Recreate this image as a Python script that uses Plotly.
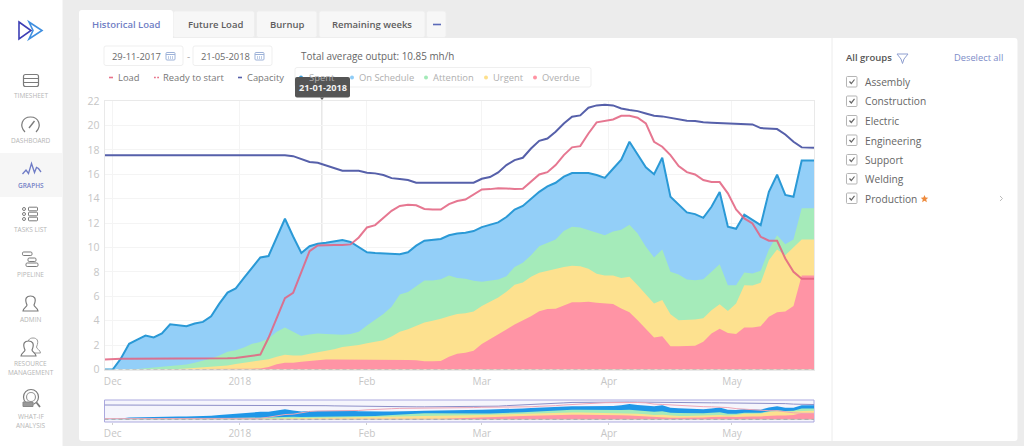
import re
import pandas as pd
import plotly.graph_objects as go

W, H = 1024, 446

# ---- data (stack tops, one value every two days) ----
dates = list(pd.date_range("2017-11-29", periods=87, freq="2D")) + [pd.Timestamp("2018-05-21")]

capacity = [17.55,17.55,17.55,17.55,17.55,17.55,17.55,17.55,17.55,17.55,17.55,17.55,17.55,17.55,17.55,17.55,17.55,17.55,17.55,17.55,17.55,17.55,17.55,
            17.48,17.24,17.0,16.94,16.72,16.48,16.28,16.28,16.28,16.12,16.07,15.93,15.68,15.6,15.52,15.3,15.3,15.3,15.3,15.3,15.3,15.3,15.3,
            15.63,15.77,16.15,16.75,17.16,17.35,18.11,18.74,18.93,19.48,20.16,20.71,20.82,21.45,21.64,21.69,21.64,21.39,21.26,21.17,20.98,20.79,20.74,20.63,20.49,20.38,20.36,20.25,20.22,20.19,20.14,20.14,20.14,20.08,19.78,19.73,19.7,19.26,18.66,18.2,18.17,18.17]

load = [0.82,0.87,0.88,0.88,0.88,0.88,0.88,0.88,0.88,0.88,0.88,0.92,0.93,0.93,0.93,0.93,0.95,1.05,1.15,1.22,2.6,4.3,5.85,6.28,8.0,9.7,10.16,10.2,10.2,10.2,10.25,10.82,11.64,11.83,12.43,13.0,13.4,13.5,13.45,13.15,13.1,13.1,13.55,13.8,
        13.93,14.37,14.75,14.78,14.86,14.84,14.78,14.8,15.38,15.98,16.17,16.75,17.57,18.2,18.3,19.34,20.25,20.38,20.49,20.79,20.79,20.63,20.16,18.66,18.25,17.57,16.67,16.17,15.98,15.52,15.36,15.36,14.43,13.11,12.38,11.97,10.87,10.55,10.55,9.1,8.0,7.43,7.43,7.43]

spent = [0,0,0.9,2.1,2.45,2.78,2.62,2.95,3.7,3.6,3.55,3.77,3.9,4.35,5.4,6.3,6.65,7.5,8.35,9.18,9.3,10.8,12.35,10.9,9.55,10.1,10.3,10.38,10.5,10.6,10.45,10.0,9.6,9.55,9.5,9.45,9.45,9.6,10.15,10.55,10.6,10.7,11.0,11.15,
         11.2,11.34,11.67,11.89,12.05,12.49,13.1,13.4,14.0,14.56,15.0,15.3,15.8,16.1,16.1,16.1,15.93,15.7,16.45,17.2,18.66,17.57,16.56,16.0,17.35,14.15,13.47,12.87,12.73,12.43,13.33,14.54,11.7,11.53,12.68,12.24,11.83,14.56,15.96,14.3,14.15,17.13,17.13,17.13]

attention = [0,0,0,0.02,0.05,0.1,0.15,0.2,0.3,0.35,0.4,0.55,0.7,0.9,1.15,1.45,1.58,1.8,2.1,2.25,2.55,3.1,3.45,3.1,2.75,2.87,2.95,2.9,2.85,2.85,2.9,3.1,3.6,4.05,4.55,5.15,6.15,6.35,6.8,7.3,7.3,7.4,7.7,7.5,
             7.43,7.27,7.2,7.27,7.38,7.65,8.4,8.75,9.37,10.1,10.4,10.65,11.34,11.7,11.64,11.42,11.2,11.0,11.3,11.45,11.86,11.15,10.05,9.18,9.84,8.0,7.79,7.38,7.32,7.4,8.0,8.63,6.9,6.9,7.95,7.87,8.09,9.84,11.0,10.27,10.65,13.22,13.22,13.22]

urgent = [0,0,0,0,0,0,0,0,0.03,0.05,0.08,0.12,0.17,0.22,0.27,0.33,0.45,0.55,0.68,0.75,0.85,1.05,1.2,1.15,1.15,1.3,1.4,1.5,1.65,1.85,1.93,2.0,2.15,2.25,2.4,2.7,3.1,3.3,3.55,3.85,4.0,4.15,4.37,4.55,
          4.6,4.75,5.2,5.57,5.9,6.37,6.94,7.13,7.6,7.92,8.09,8.22,8.4,8.5,8.47,8.25,7.84,7.7,7.7,7.5,7.6,6.9,6.17,5.4,5.7,4.53,4.04,4.04,4.1,4.2,4.86,5.35,4.8,5.4,6.9,6.88,7.1,8.96,9.84,9.37,10.0,10.65,10.65,10.65]

overdue = [0,0,0,0,0,0,0,0,0,0,0.01,0.02,0.03,0.04,0.05,0.05,0.06,0.06,0.07,0.08,0.2,0.43,0.55,0.55,0.63,0.7,0.77,0.82,0.82,0.82,0.82,0.77,0.77,0.77,0.77,0.77,0.77,0.77,0.75,0.68,0.68,0.7,1.04,1.3,
           1.37,1.53,2.08,2.46,2.87,3.28,3.69,4.0,4.37,4.78,4.95,4.97,5.27,5.52,5.52,5.55,5.46,5.38,5.36,5.0,4.7,4.04,3.36,2.62,2.73,1.91,1.91,1.91,1.94,2.27,2.95,3.33,3.0,2.9,3.44,3.44,3.55,4.32,4.7,4.75,5.2,7.7,7.7,7.7]

y_ticks = [0,2,4,6,8,10,12,14,16,18,20,22]
x_tick_dates = ["2017-12-01","2018-01-01","2018-02-01","2018-03-01","2018-04-01","2018-05-01"]
x_tick_text = ["Dec","2018","Feb","Mar","Apr","May"]

tabs = [("Historical Load",126),("Future Load",215),("Burnup",287),("Remaining weeks",372)]
groups = ["Assembly","Construction","Electric","Engineering","Support","Welding","Production"]
group_rows = [82,101.5,121,140.5,160,179,198.5]
nav_items = [("TIMESHEET",95),("DASHBOARD",140),("GRAPHS",185),("TASKS LIST",229),("PIPELINE",274),("ADMIN",319),
             ("RESOURCE",363),("MANAGEMENT",372),("WHAT-IF",416),("ANALYSIS",425)]
legend_left = [("Load",118),("Ready to start",163),("Capacity",247)]
legend_box = [("Spent",309,"#3f9fd8",301),("On Schedule",359,"#8fcdf7",352),("Attention",433,"#a3eab8",426),("Urgent",493,"#fde08c",486),("Overdue",542,"#ff93a3",535)]

# ---- colours ----
C_SPENT, C_ATT, C_URG, C_OVER = "#93cff8", "#a5ebba", "#fde18f", "#ff94a5"
C_SPENT_LINE, C_LOAD, C_CAP = "#2a99d6", "rgba(226,100,130,0.88)", "#5660aa"
C_NAV_SPENT = "#1f97e8"
FONT = "Open Sans"

# ---- pixel helpers for the page chrome ----
px = lambda x: x / W
py = lambda y: 1 - y / H

def conv(d):
    toks = re.findall(r"[MLQCZ]|-?\d+\.?\d*", d)
    out, is_x = [], True
    for t in toks:
        if t in "MLQCZ":
            out.append(t); is_x = True
        else:
            v = float(t)
            out.append(f"{px(v):.5f}" if is_x else f"{py(v):.5f}")
            is_x = not is_x
    return " ".join(out)

shapes, annos = [], []

def path(d, line="rgba(0,0,0,0)", width=1, fill="rgba(0,0,0,0)", layer="below"):
    shapes.append(dict(type="path", xref="paper", yref="paper", path=conv(d), layer=layer,
                       line=dict(color=line, width=width), fillcolor=fill))

def rect(x0, y0, x1, y1, fill="rgba(0,0,0,0)", line="rgba(0,0,0,0)", width=1, r=0, layer="below"):
    if r:
        d = (f"M{x0+r} {y0} L{x1-r} {y0} Q{x1} {y0} {x1} {y0+r} L{x1} {y1-r} Q{x1} {y1} {x1-r} {y1} "
             f"L{x0+r} {y1} Q{x0} {y1} {x0} {y1-r} L{x0} {y0+r} Q{x0} {y0} {x0+r} {y0} Z")
        path(d, line, width, fill, layer)
    else:
        shapes.append(dict(type="rect", xref="paper", yref="paper", x0=px(x0), x1=px(x1), y0=py(y0), y1=py(y1),
                           fillcolor=fill, line=dict(color=line, width=width), layer=layer))

def circle(cx, cy, r, fill="rgba(0,0,0,0)", line="rgba(0,0,0,0)", width=1, layer="below"):
    shapes.append(dict(type="circle", xref="paper", yref="paper", x0=px(cx-r), x1=px(cx+r), y0=py(cy+r), y1=py(cy-r),
                       fillcolor=fill, line=dict(color=line, width=width), layer=layer))

def text(s, x, y, size=10.5, color="#666", anchor="left", weight=400):
    annos.append(dict(text=s, x=px(x), y=py(y), xref="paper", yref="paper", showarrow=False, xanchor=anchor,
                      yanchor="middle", borderpad=0, borderwidth=0,
                      font=dict(family=FONT, size=size, color=color, weight=weight)))

# page panels
rect(0, 0, 62.5, 446, fill="#ffffff")
rect(0, 153, 62.5, 197, fill="#f6f6f6")
rect(79, 38, 1017.5, 441, fill="#ffffff", r=3)
rect(173, 11, 254.5, 37.5, fill="#f7f7f7", line="#eeeeee", r=2)
rect(256.5, 11, 317, 37.5, fill="#f7f7f7", line="#eeeeee", r=2)
rect(319, 11, 425, 37.5, fill="#f7f7f7", line="#eeeeee", r=2)
rect(426.5, 11, 446, 37.5, fill="#f7f7f7", line="#eeeeee", r=2)
rect(79, 10, 173, 40, fill="#ffffff", r=3)
path("M832 38 L832 441", line="#ececec")
path("M433 24.5 L441 24.5", line="#5b6ab8", width=1.6)

# tabs
for i, (s, x) in enumerate(tabs):
    text(s, x, 24, size=9.5, color="#6f7ec4" if i == 0 else "#5e5e5e", anchor="center", weight=600)

# date inputs
rect(104, 46, 183, 65.5, line="#efefef", r=2)
rect(193, 46, 272, 65.5, line="#efefef", r=2)
text("29-11-2017", 112, 56, size=9.4, color="#6a6a6a")
text("21-05-2018", 201, 56, size=9.4, color="#6a6a6a")
text("-", 188, 56, size=10, color="#aaa", anchor="center")
for cx in (166, 255):
    rect(cx, 52.5, cx + 9, 60, line="#9db2d8", r=1)
    path(f"M{cx} 54.5 L{cx+9} 54.5", line="#9db2d8")
    path(f"M{cx+2.5} 56 L{cx+2.5} 59 M{cx+4.5} 56 L{cx+4.5} 59 M{cx+6.5} 56 L{cx+6.5} 59", line="#bccbe6")
text("Total average output: 10.85 mh/h", 301, 56, size=9.9, color="#666")

# legend row
path("M109 77.5 L113 77.5", line="#e8738a", width=1.6)
path("M154 77.5 L155.8 77.5 M157.2 77.5 L159 77.5", line="#e8738a", width=1.6)
path("M238 77.5 L242 77.5", line="#5660aa", width=1.6)
for s, x in legend_left:
    text(s, x, 77.5, size=9.4, color="#777")
rect(295, 67.5, 591, 87, line="#efefef", r=2)
for s, x, c, dot in legend_box:
    circle(dot, 77.5, 2, fill=c)
    text(s, x, 77.5, size=9.4, color="#b0b0b0")

# tooltip
rect(295, 77, 350, 97.5, fill="#555555", r=2, layer="above")
path("M320 97.5 L324 97.5 L322 100 Z", fill="#555555", layer="above")
text("21-01-2018", 322.5, 87.5, size=9.2, color="#f2f2f2", anchor="center", weight=700)

# right panel
text("All groups", 846, 58, size=9.5, color="#555", weight=600)
path("M897 54 L908 54 L904 59 L902.5 63.5 L901 59 Z", line="#8f9fd0")
text("Deselect all", 1003, 58, size=9.3, color="#7c8cc8", anchor="right")
for s, y in zip(groups, group_rows):
    rect(846.5, y - 5.5, 857, y + 5, line="#b5b5b5", r=1)
    path(f"M849.5 {y-0.5} L851.3 {y+1.5} L854.5 {y-2.5}", line="#666", width=1.2)
    text(s, 865, y, size=10.2, color="#666")
path("M924.5 195 L925.6 197.6 L928.3 197.8 L926.2 199.6 L926.9 202.2 L924.5 200.8 L922.1 202.2 L922.8 199.6 L920.7 197.8 L923.4 197.6 Z", fill="#ee8a3c")
path("M1000 196 L1002.5 198.5 L1000 201", line="#bbbbbb")

# sidebar
path("M19 22 L31 30.5 L19 39 Z", line="#3d3fb5", width=1.6)
path("M29 22 L42 30.5 L29 39 L33 30.5 Z", line="#3f8fe0", width=1.6)
for s, y in nav_items:
    active = s == "GRAPHS"
    text(s, 30.5, y, size=6.5, color="#7480c6" if active else "#b5b5b5", anchor="center", weight=600 if active else 400)
G = "#7b7b7b"
rect(23.5, 74.5, 38.5, 86.5, line=G, width=1.2, r=2)
path("M23.5 78.5 L38.5 78.5 M23.5 82.5 L38.5 82.5", line=G, width=1.2)
path("M25 132 C19 126 22 117 30.5 117 C39 117 42 126 36 132", line=G, width=1.2)
path("M29 128 L34.5 121", line=G, width=1.4)
path("M22.5 174 L26 170 L28.5 173.5 L31.5 163.5 L34.5 172.5 L36.5 167.5 L38.5 168.5 L41 172", line="#6f7cc6", width=1.3)
for y in (209, 214, 219):
    circle(24, y, 1.5, line=G)
    rect(28.5, y - 1.8, 37.5, y + 1.8, line=G, r=0.8)
rect(22.5, 252, 32, 255.5, line=G, r=1.2)
rect(28, 258, 36, 261.5, line=G, r=1.2)
rect(26, 263, 38, 266.5, line=G, r=1.2)
def person(dx, dy):
    return (f"M{27+dx} {305+dy} C{24+dx} {298+dy} {27+dx} {296+dy} {30.5+dx} {296+dy} C{34+dx} {296+dy} {37+dx} {298+dy} {34+dx} {305+dy} "
            f"C{34+dx} {307+dy} {38+dx} {308+dy} {38+dx} {311+dy} L{23+dx} {311+dy} C{23+dx} {308+dy} {27+dx} {307+dy} {27+dx} {305+dy} Z")
path(person(0, 0), line=G, width=1.2)
path(person(2.5, 42), line="#9a9a9a", width=1)
path(person(-2, 45), line=G, fill="#ffffff", width=1.2)
circle(31, 397, 7.5, line=G, width=1.2)
circle(31, 397, 4.5, line="#999", width=1.2)
path("M36.5 402.5 L40 407", line=G, width=1.8)
rect(23, 402, 33, 406.5, fill="#999999", line="#888888")

# ---- chart ----
PL, PR, PT, PB = 104.5, 814, 101, 369.5
NT, NB = 400, 422

# selection window of the navigator, under its marks
shapes.append(dict(type="rect", xref="paper", yref="paper", x0=px(PL), x1=px(PR), y0=py(NB), y1=py(NT),
                   fillcolor="#f5f5fc", line=dict(color="#aba9df", width=1), layer="below"))
# crosshair
shapes.append(dict(type="line", xref="x", yref="y", x0="2018-01-21", x1="2018-01-21", y0=0, y1=22,
                   line=dict(color="#dcdcdc", width=1), layer="below"))
# dashed baseline
shapes.append(dict(type="line", xref="x", yref="y", x0=dates[0], x1=dates[-1], y0=0, y1=0,
                   line=dict(color="#a9a9a9", width=1, dash="4px,3px"), layer="above"))
shapes.append(dict(type="line", xref="x2", yref="y2", x0=dates[0], x1=dates[-1], y0=0, y1=0,
                   line=dict(color="#a9a9a9", width=1, dash="4px,3px"), layer="above"))

fig = go.Figure()

def area(y, color, xa="x", ya="y", line=None, width=0):
    fig.add_trace(go.Scatter(x=dates, y=y, mode="lines", fill="tozeroy", fillcolor=color, xaxis=xa, yaxis=ya,
                             line=dict(color=line or color, width=width, shape="linear"), hoverinfo="skip", showlegend=False))

def curve(y, color, width, xa="x", ya="y"):
    fig.add_trace(go.Scatter(x=dates, y=y, mode="lines", xaxis=xa, yaxis=ya,
                             line=dict(color=color, width=width), hoverinfo="skip", showlegend=False))

area(spent, C_SPENT)
area(attention, C_ATT)
area(urgent, C_URG)
area(overdue, C_OVER)
curve(spent, C_SPENT_LINE, 2)
curve(capacity, C_CAP, 2)
curve(load, C_LOAD, 2)

area(spent, C_NAV_SPENT, "x2", "y2")
area(attention, C_ATT, "x2", "y2")
area(urgent, C_URG, "x2", "y2")
area(overdue, C_OVER, "x2", "y2")
curve(capacity, "#8d8fc8", 1, "x2", "y2")
curve(load, "#eda6b6", 1, "x2", "y2")

tick_font = dict(family=FONT, size=10, color="#c6c6c6")
x_range = [dates[0], dates[-1]]
fig.update_layout(
    width=W, height=H, autosize=False, margin=dict(l=0, r=0, t=0, b=0, pad=0, autoexpand=False),
    paper_bgcolor="#ececec", plot_bgcolor="rgba(0,0,0,0)", showlegend=False, hovermode=False,
    font=dict(family=FONT),
    xaxis=dict(domain=[px(PL), px(PR)], anchor="y", range=x_range, type="date", tickmode="array",
               tickvals=x_tick_dates, ticktext=x_tick_text, tickfont=tick_font, ticks="outside", ticklen=2,
               tickcolor="rgba(0,0,0,0)", showgrid=True, gridcolor="#f4f4f4", gridwidth=1,
               showline=True, mirror=True, linecolor="#e9e9e9", zeroline=False),
    yaxis=dict(domain=[py(PB), py(PT)], anchor="x", range=[0, 22], tickmode="array", tickvals=y_ticks,
               tickfont=dict(family=FONT, size=10.5, color="#c6c6c6"), showgrid=True, gridcolor="#f4f4f4", gridwidth=1,
               zeroline=False, showline=True, mirror=True, linecolor="#e9e9e9", ticks="", ticklabelstandoff=2),
    xaxis2=dict(domain=[px(PL), px(PR)], anchor="y2", range=x_range, type="date", tickmode="array",
                tickvals=x_tick_dates, ticktext=x_tick_text, tickfont=tick_font, ticks="outside", ticklen=2,
                tickcolor="#cfcfcf", showgrid=False, showline=False, zeroline=False),
    yaxis2=dict(domain=[py(NB), py(NT)], anchor="x2", range=[-3.3, 23.7], showticklabels=False, showgrid=False,
                zeroline=False, showline=False, ticks=""),
    shapes=shapes, annotations=annos,
)

fig.write_html("out.html", config={"displayModeBar": False, "responsive": False},
               default_width=f"{W}px", default_height=f"{H}px")
# page without the browser's default body margin, so the figure fills the window
with open("out.html", encoding="utf-8") as fh:
    page = fh.read()
page = page.replace("<head>", "<head><style>html,body{margin:0;padding:0;overflow:hidden;background:#ececec}</style>", 1)
with open("out.html", "w", encoding="utf-8") as fh:
    fh.write(page)
